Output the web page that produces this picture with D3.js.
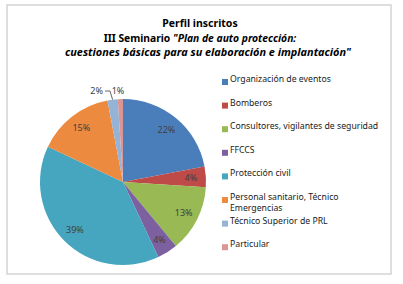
<!DOCTYPE html>
<html>
<head>
<meta charset="utf-8">
<script src="https://cdn.jsdelivr.net/npm/d3@7"></script>
<style>
  body { margin: 0; background: #fff; }
  svg { display: block; font-family: "Noto Sans", "Open Sans", sans-serif; }
</style>
</head>
<body>
<svg id="chart" width="403" height="284"></svg>
<script>
const categories = [
  "Organización de eventos",
  "Bomberos",
  "Consultores, vigilantes de seguridad",
  "FFCCS",
  "Protección civil",
  "Personal sanitario, Técnico Emergencias",
  "Técnico Superior de PRL",
  "Particular"
];
const shares = [22, 4, 13, 4, 39, 15, 2, 1];
const colors = ["#4a7ebb", "#be4b48", "#98b954", "#7d60a0", "#46a5bf", "#ec8b3f", "#95b3d7", "#d99694"];
const titleLines = ["Perfil inscritos"];

const svg = d3.select("#chart");

// frame
svg.append("rect")
  .attr("x", 7).attr("y", 5).attr("width", 384).attr("height", 269)
  .attr("fill", "#fff").attr("stroke", "#d4d4d4").attr("stroke-width", 1.5);

// title
const cx = 200;
svg.append("text").attr("x", cx).attr("y", 27).attr("text-anchor", "middle")
  .attr("font-size", 10.5).attr("font-weight", "bold").attr("fill", "#000")
  .text(titleLines[0]);
const t2 = svg.append("text").attr("x", cx).attr("y", 42).attr("text-anchor", "middle")
  .attr("font-size", 10.3).attr("fill", "#000");
t2.append("tspan").attr("font-weight", "bold").text("III Seminario ");
t2.append("tspan").attr("font-style", "italic").attr("font-weight", "bold").text("\"Plan de auto protección:");
svg.append("text").attr("x", cx + 8).attr("y", 56).attr("text-anchor", "middle")
  .attr("font-size", 10.9).attr("font-style", "italic").attr("font-weight", "bold").attr("fill", "#000")
  .text("cuestiones básicas para su elaboración e implantación\"");

// pie
const r = 83;
const g = svg.append("g").attr("transform", `translate(123,182)`);
const arcs = d3.pie().sort(null).value(d => d)(shares);
const arc = d3.arc().innerRadius(0).outerRadius(r);
const labelArc = d3.arc().innerRadius(r * 0.82).outerRadius(r * 0.82);

g.selectAll("path").data(arcs).enter().append("path")
  .attr("d", arc)
  .attr("fill", (d, i) => colors[i]);

// labels inside for big slices, outside above for the tiny ones
arcs.forEach(d => {
  if (d.data >= 4) {
    const [x, y] = labelArc.centroid(d);
    g.append("text").attr("x", x).attr("y", y).attr("dy", "0.35em")
      .attr("text-anchor", "middle").attr("font-size", 9).attr("fill", "#404040")
      .text(d.data + "%");
  }
});
// 2% with leader line, 1% right beside
const small = arcs.filter(d => d.data < 4);
small.forEach((d, i) => {
  const mid = (d.startAngle + d.endAngle) / 2;
  const px = Math.sin(mid) * r, py = -Math.cos(mid) * r;
  if (i === 0) {
    g.append("text").attr("x", -20).attr("y", -91).attr("dy", "0.35em")
      .attr("text-anchor", "end").attr("font-size", 9).attr("fill", "#404040")
      .text(d.data + "%");
    g.append("path")
      .attr("d", `M${-18},${-91}L${-13},${-91}L${px},${py}`)
      .attr("fill", "none").attr("stroke", "#404040").attr("stroke-width", 0.8);
  } else {
    g.append("text").attr("x", -5).attr("y", -91).attr("dy", "0.35em")
      .attr("text-anchor", "middle").attr("font-size", 9).attr("fill", "#404040")
      .text(d.data + "%");
  }
});

// legend
const leg = svg.append("g").attr("transform", "translate(222,82)");
const item = leg.selectAll("g").data(categories).enter().append("g")
  .attr("transform", (d, i) => `translate(0,${i * 23.6})`);
item.append("rect").attr("x", 0).attr("y", -3).attr("width", 6).attr("height", 6)
  .attr("fill", (d, i) => colors[i]);
item.append("text").attr("x", 8).attr("dy", "0.35em").attr("font-size", 8.7).attr("fill", "#1a1a1a")
  .each(function(d) {
    const el = d3.select(this);
    const words = d.split(" ");
    let line = [], tspan = el.append("tspan").attr("x", 8).attr("dy", 0);
    words.forEach(w => {
      line.push(w);
      tspan.text(line.join(" "));
      if (tspan.node().getComputedTextLength() > 152 && line.length > 1) {
        line.pop();
        tspan.text(line.join(" "));
        line = [w];
        tspan = el.append("tspan").attr("x", 8).attr("dy", "1.3em").text(w);
      }
    });
  });
</script>
</body>
</html>
